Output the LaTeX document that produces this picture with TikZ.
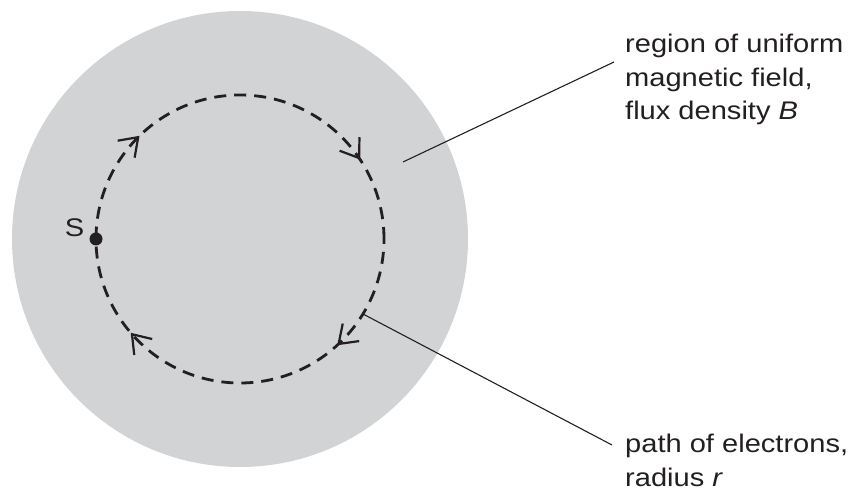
\documentclass[tikz,border=0pt]{standalone}
\usepackage{fontspec}
\newfontfamily\lab[FakeStretch=1.14]{Liberation Sans}
\usetikzlibrary{decorations.markings}
\definecolor{fieldgray}{HTML}{D1D3D4}
\definecolor{ink}{HTML}{231F20}
\tikzset{
  field/.style={fill=fieldgray, draw=none},
  pathline/.style={draw=ink, line width=2.8pt, dash pattern=on 12pt off 8pt},
  leader/.style={draw=ink, line width=1.1pt},
  lbl/.style={font=\lab\fontsize{25.5}{33.5}\selectfont, text=ink, inner sep=0pt, align=left},
  vhead/.style={draw=ink, solid, line width=2.2pt, line join=miter},
  dirmarks/.style={decoration={markings,
      mark=at position 0.125 with {\draw[vhead] (-17pt,12pt) -- (0,0) -- (-17pt,-12pt);},
      mark=at position 0.405 with {\draw[vhead] (-17pt,12pt) -- (0,0) -- (-17pt,-12pt);},
      mark=at position 0.63 with {\draw[vhead] (-17pt,12pt) -- (0,0) -- (-17pt,-12pt);},
      mark=at position 0.885 with {\draw[vhead] (-17pt,12pt) -- (0,0) -- (-17pt,-12pt);}
    }, decorate}
}
\begin{document}
\begin{tikzpicture}[x=1pt,y=1pt]
\useasboundingbox (0,0) rectangle (851,492);
% field region
\coordinate (C) at (240,253);
\fill[field] (C) circle (228);
% electron path
\draw[pathline] (C) circle (144);
\path[dirmarks] (96,253) arc[start angle=180, end angle=-180, radius=144];
% source
\fill[ink] (96,253) circle (6.5) node[coordinate] (S) {};
\node[lbl, anchor=center] (Slabel) at (74.5,264) {S};
% leader lines
\coordinate (fieldpt) at (403,330);
\coordinate (pathpt) at (363,178);
\node[lbl, anchor=north west] (fieldtxt) at (625,458) {region of uniform\\magnetic field,\\flux density \textit{B}};
\node[lbl, anchor=north west] (pathtxt) at (625,58) {path of electrons,\\radius \textit{r}};
\coordinate (fieldend) at (614,430);
\coordinate (pathend) at (612,47);
\draw[leader] (fieldpt) -- (fieldend);
\draw[leader] (pathpt) -- (pathend);
\end{tikzpicture}
\end{document}
